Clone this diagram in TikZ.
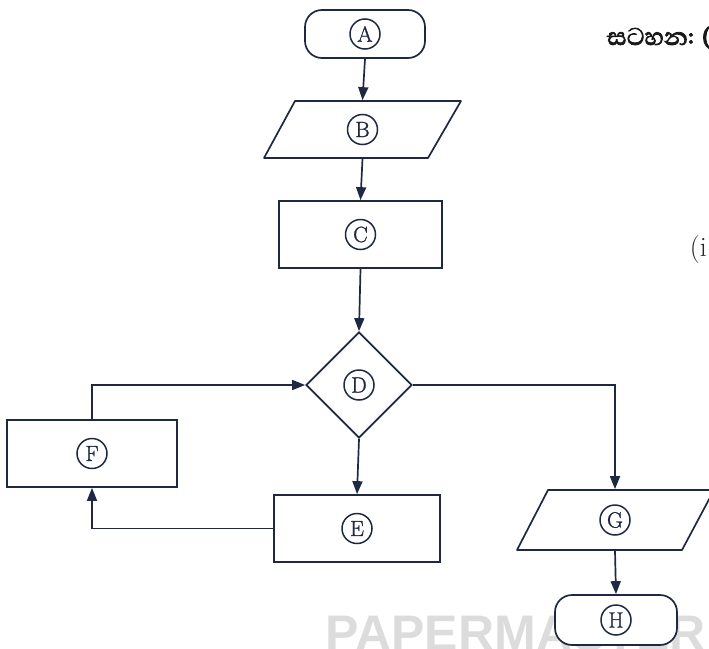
\documentclass[tikz,border=0pt]{standalone}
\usepackage{fontspec}
\newfontfamily\sinhalafont[Script=Sinhala,FakeBold=2.5]{Abhaya Libre}
\newfontfamily\wmfont{Liberation Sans}
\newfontfamily\lblfont[FakeBold=1.2]{Latin Modern Roman}
\usetikzlibrary{shapes.geometric,arrows.meta}
\definecolor{ink}{HTML}{1E2842}
\definecolor{wm}{HTML}{DCDCDC}
\begin{document}
\begin{tikzpicture}[x=1pt,y=-1pt,
  line width=1.7pt, draw=ink,
  box/.style={draw=ink, line width=1.7pt, fill=white, rectangle, inner sep=0pt},
  term/.style={box, rounded corners=17pt},
  ghost/.style={rectangle, inner sep=0pt},
  lbl/.style={circle, draw=ink, line width=1.5pt, inner sep=0pt, minimum size=30pt,
    text=ink, font=\lblfont\fontsize{22}{24}\selectfont},
  flow/.style={draw=ink, line width=1.7pt, -{Triangle[length=13pt,width=10pt]}},
  plain/.style={draw=ink, line width=1.7pt}]
\useasboundingbox (0,0) rectangle (709,648);
\begin{scope}
\clip (0,0) rectangle (709,648);
% watermark
\node[anchor=base west, inner sep=0pt, text=wm, font=\wmfont\bfseries\fontsize{50}{50}\selectfont] (wmk) at (325,650) {PAPERMASTER};
% nodes
\node[term, minimum width=120pt, minimum height=48pt] (A) at (365,34) {};
\node[ghost, minimum width=134pt, minimum height=57pt] (B) at (362.5,129.5) {};
\draw[plain, fill=white, line join=round] (295,101) -- (461,101) -- (428,158) -- (264,158) -- cycle;
\node[box, minimum width=163pt, minimum height=67pt] (C) at (360.5,234.5) {};
\node[diamond, draw=ink, line width=1.7pt, fill=white, inner sep=0pt, minimum width=106pt, minimum height=106pt] (D) at (359,385) {};
\node[box, minimum width=166pt, minimum height=67pt] (E) at (357,528.5) {};
\node[box, minimum width=170pt, minimum height=67pt] (F) at (92,453.5) {};
\node[ghost, minimum width=134pt, minimum height=60pt] (G) at (615,520) {};
\draw[plain, fill=white, line join=round] (548,490) -- (714,490) -- (682,550) -- (517,550) -- cycle;
\node[term, minimum width=122pt, minimum height=50pt] (H) at (616,620) {};
% labels
\node[lbl] (la) at (A) {A};
\node[lbl] (lb) at (B) {B};
\node[lbl] (lc) at (C) {C};
\node[lbl] (ld) at (D) {D};
\node[lbl] (le) at (E) {E};
\node[lbl] (lf) at (F) {F};
\node[lbl] (lg) at (G) {G};
\node[lbl] (lh) at (H) {H};
% connectors
\draw[flow] (A.south) -- (B.north);
\draw[flow] (B.south) -- (C.north);
\draw[flow] (C.south) -- (D.north);
\draw[flow] (D.south) -- (E.north);
\draw[flow] (E.west) -| (F.south);
\draw[flow] (F.north) |- (D.west);
\draw[flow] (D.east) -| (G.north);
\draw[flow] (G.south) -- (H.north);
% side texts
\node[anchor=base west, inner sep=0pt, text=black!90, font=\sinhalafont\fontsize{31}{34}\selectfont] (note) at (606,45) {සටහන: (};
\node[anchor=base west, inner sep=0pt, text=black!85, font=\fontsize{28}{30}\selectfont] (qi) at (689,256) {(i};
\end{scope}
\end{tikzpicture}
\end{document}
